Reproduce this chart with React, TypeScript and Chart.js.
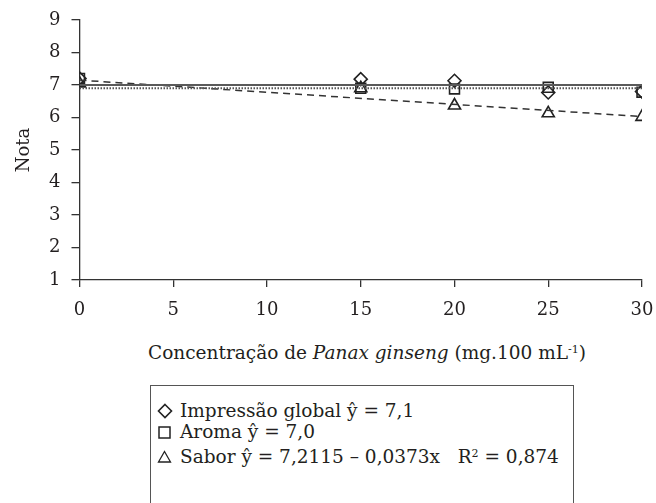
import { useEffect, useRef } from 'react';
import { Chart, registerables } from 'chart.js';

Chart.register(...registerables);

// ---- data ----
const concentrations = [0, 15, 20, 25, 30];
const impressaoValues = [7.2, 7.18, 7.13, 6.77, 6.8];
const aromaValues = [7.2, 6.9, 6.88, 6.93, 6.78];
const saborValues = [7.05, 6.9, 6.37, 6.13, 6.02];

const fitX = [0, 30];
const impressaoFit = [7.0, 7.0];
const aromaFit = [6.9, 6.9];
const saborFit = [7.15, 6.03];

const xTickValues = [0, 5, 10, 15, 20, 25, 30];
const yTickValues = [1, 2, 3, 4, 5, 6, 7, 8, 9];

const legendRows = ['Impressão global ŷ = 7,1', 'Aroma ŷ = 7,0', 'Sabor ŷ = 7,2115 – 0,0373x   '];

const FONT = "'DejaVu Serif', serif";
const INK = '#231f20';
const FS = 18;
const TFS = 18.5;

const pts = (xs: number[], ys: number[]) => xs.map((x, i) => ({ x, y: ys[i] }));

export default function App() {
  const ref = useRef<HTMLCanvasElement | null>(null);

  useEffect(() => {
    document.body.style.margin = '0';
    const canvas = ref.current;
    if (!canvas) return;
    const CANVAS_H = 340;
    const chart = new Chart(canvas, {
      type: 'scatter',
      data: {
        datasets: [
          {
            label: 'Impressão global fit',
            data: pts(fitX, impressaoFit),
            showLine: true,
            borderColor: '#5a5a5a',
            borderWidth: 2,
            pointRadius: 0,
          },
          {
            label: 'Aroma fit',
            data: pts(fitX, aromaFit),
            showLine: true,
            borderColor: '#555',
            borderWidth: 2,
            borderDash: [1.5, 1.5],
            pointRadius: 0,
          },
          {
            label: 'Sabor fit',
            data: pts(fitX, saborFit),
            showLine: true,
            borderColor: '#333',
            borderWidth: 1.5,
            borderDash: [7, 5],
            pointRadius: 0,
          },
          {
            label: 'Impressão global',
            data: pts(concentrations, impressaoValues),
            pointStyle: 'rectRot',
            pointRadius: 6.5,
            pointBorderColor: '#222',
            pointBorderWidth: 1.6,
            pointBackgroundColor: 'rgba(0,0,0,0)',
          },
          {
            label: 'Aroma',
            data: pts(concentrations, aromaValues),
            pointStyle: 'rect',
            pointRadius: 7,
            pointBorderColor: '#222',
            pointBorderWidth: 1.6,
            pointBackgroundColor: 'rgba(0,0,0,0)',
          },
          {
            label: 'Sabor',
            data: pts(concentrations, saborValues),
            pointStyle: 'triangle',
            pointRadius: 7,
            pointBorderColor: '#222',
            pointBorderWidth: 1.6,
            pointBackgroundColor: 'rgba(0,0,0,0)',
          },
        ],
      },
      options: {
        responsive: false,
        animation: false,
        layout: { padding: { left: 0, right: 14, top: 20, bottom: 0 } },
        plugins: { legend: { display: false }, tooltip: { enabled: false } },
        scales: {
          x: {
            type: 'linear',
            min: 0,
            max: 30,
            afterFit: (s: any) => {
              s.height = CANVAS_H - 280;
              s.paddingLeft = 0;
              s.paddingRight = 0;
            },
            afterBuildTicks: (s: any) => {
              s.ticks = xTickValues.map((v) => ({ value: v }));
            },
            ticks: {
              font: { family: FONT, size: FS },
              color: INK,
              padding: 13,
              maxRotation: 0,
            },
            grid: {
              display: true,
              drawOnChartArea: false,
              drawTicks: true,
              tickLength: 7,
              color: '#333',
              lineWidth: 1.3,
            },
            border: { display: true, color: '#333', width: 1.3 },
          },
          y: {
            type: 'linear',
            min: 1,
            max: 9,
            afterFit: (s: any) => {
              s.width = 79.5;
              s.paddingTop = 0;
              s.paddingBottom = 0;
            },
            afterBuildTicks: (s: any) => {
              s.ticks = yTickValues.map((v) => ({ value: v }));
            },
            ticks: {
              font: { family: FONT, size: FS },
              color: INK,
              padding: 11,
            },
            grid: {
              display: true,
              drawOnChartArea: false,
              drawTicks: true,
              tickLength: 8,
              color: '#333',
              lineWidth: 1.3,
            },
            border: { display: true, color: '#333', width: 1.3 },
            title: {
              display: true,
              text: 'Nota',
              font: { family: FONT, size: FS },
              color: INK,
              padding: { top: 14, bottom: 0 },
            },
          },
        },
      },
    });
    return () => chart.destroy();
  }, []);

  const rowTops = [399, 420, 445];

  const icon = (i: number) => {
    if (i === 0)
      return (
        <svg width="16" height="16" style={{ position: 'absolute', left: 157, top: 4 }}>
          <polygon points="8,1.5 14.5,8 8,14.5 1.5,8" fill="none" stroke="#222" strokeWidth="1.6" />
        </svg>
      );
    if (i === 1)
      return (
        <svg width="16" height="16" style={{ position: 'absolute', left: 157, top: 5 }}>
          <rect x="2" y="2" width="11" height="11" fill="none" stroke="#222" strokeWidth="1.5" />
        </svg>
      );
    return (
      <svg width="16" height="16" style={{ position: 'absolute', left: 157, top: 4 }}>
        <polygon points="7.5,2.5 13.5,13 1.5,13" fill="none" stroke="#222" strokeWidth="1.3" />
      </svg>
    );
  };

  return (
    <div
      style={{
        position: 'fixed',
        left: 0,
        top: 0,
        width: 656,
        height: 503,
        overflow: 'hidden',
        background: '#fff',
        fontFamily: FONT,
        color: INK,
      }}
    >
      <canvas ref={ref} width={656} height={340} style={{ position: 'absolute', left: 0, top: 0, width: 656, height: 340 }} />
      <div
        style={{
          position: 'absolute',
          left: 79.5,
          width: 575,
          top: 341,
          fontSize: TFS,
          lineHeight: '24px',
          textAlign: 'center',
          whiteSpace: 'nowrap',
        }}
      >
        Concentração de <i>Panax ginseng</i> (mg.100 mL
        <sup style={{ fontSize: 11, verticalAlign: 'top', position: 'relative', top: -3 }}>-1</sup>)
      </div>
      <div
        style={{
          position: 'absolute',
          left: 150,
          top: 385,
          width: 424,
          height: 140,
          border: '1.5px solid #555',
          boxSizing: 'border-box',
        }}
      />
      {legendRows.map((t, i) => (
        <div
          key={i}
          style={{ position: 'absolute', left: 0, top: rowTops[i], height: 24, width: 656 }}
        >
          {icon(i)}
          <span
            style={{
              position: 'absolute',
              left: 180,
              top: 0,
              fontSize: TFS,
              lineHeight: '24px',
              whiteSpace: 'pre',
            }}
          >
            {t}
            {i === 2 ? (
              <>
                R<sup style={{ fontSize: 11, verticalAlign: 'top', position: 'relative', top: -3 }}>2</sup> = 0,874
              </>
            ) : null}
          </span>
        </div>
      ))}
    </div>
  );
}
